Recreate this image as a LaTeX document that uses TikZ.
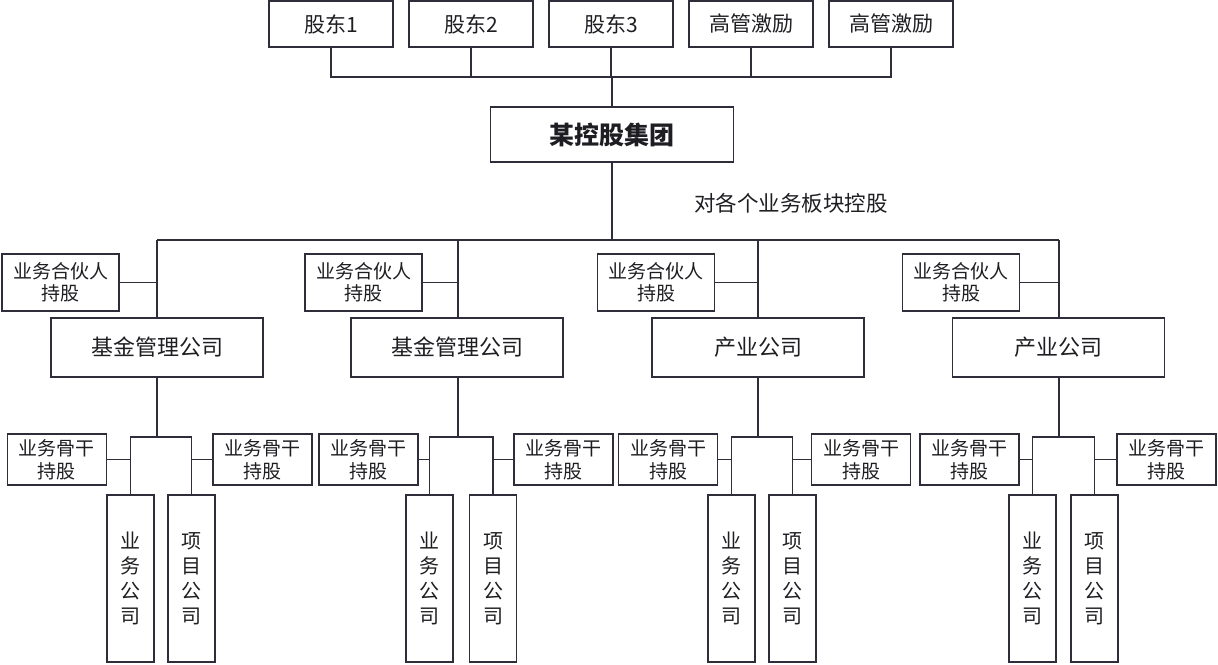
\documentclass[tikz,border=0pt]{standalone}
\usepackage{fontspec}
\newfontfamily\cjk{Noto Sans CJK SC}
\usetikzlibrary{calc}
\definecolor{linec}{RGB}{48,44,58}
\definecolor{textc}{RGB}{30,30,34}
\tikzset {box/.style={draw=linec,line width=1.2pt,inner sep=0pt,align=center,text=textc},
  holder/.style={box,minimum width=124pt,minimum height=46pt,font=\cjk\fontsize{21pt}{23pt}\selectfont},
  group/.style={box,minimum width=243pt,minimum height=55pt,font=\cjk\bfseries\fontsize{25pt}{28pt}\selectfont},
  partner/.style={box,minimum width=117pt,minimum height=57pt,font=\cjk\fontsize{19pt}{22pt}\selectfont},
  firm/.style={box,minimum width=212pt,minimum height=59pt,font=\cjk\fontsize{22pt}{24pt}\selectfont},
  backbone/.style={box,minimum width=99pt,minimum height=51pt,font=\cjk\fontsize{19pt}{23pt}\selectfont},
  unit/.style={box,minimum width=47pt,minimum height=167pt,font=\cjk\fontsize{20pt}{25pt}\selectfont},
  wire/.style={draw=linec,line width=1.2pt}}
\begin{document}
\begin{tikzpicture}[x=1pt,y=-1pt]
\useasboundingbox (0,0) rectangle (1218,664);

% Place shareholders
\node[holder] (sh1) at (331,24) {股东1};
\node[holder] (sh2) at (471,24) {股东2};
\node[holder] (sh3) at (611,24) {股东3};
\node[holder] (sh4) at (751,24) {高管激励};
\node[holder] (sh5) at (891,24) {高管激励};

% Place holding group
\node[group] (grp) at (612,134.5) {某控股集团};
\node[font=\cjk\fontsize{21.5pt}{24pt}\selectfont,text=textc] (note) at (791,203) {对各个业务板块控股};

% Draw shareholder bus
\coordinate (hub) at (612,77);
\draw [wire] (sh1.south) |- (hub) -| (sh5.south);
\draw [wire] (sh2.south) -- (sh2.south |- hub);
\draw [wire] (sh3.south) -- (sh3.south |- hub);
\draw [wire] (sh4.south) -- (sh4.south |- hub);
\draw [wire] (hub) -- (grp.north);

% Place business segments
\node[firm] (co1) at (157,347.5) {基金管理公司};
\node[firm] (co2) at (457,347.5) {基金管理公司};
\node[firm] (co3) at (758,347.5) {产业公司};
\node[firm] (co4) at (1058.5,347.5) {产业公司};

\node[partner] (pt1) at (60.5,282.5) {业务合伙人\\持股};
\node[partner] (pt2) at (363.5,282.5) {业务合伙人\\持股};
\node[partner] (pt3) at (656,282.5) {业务合伙人\\持股};
\node[partner] (pt4) at (961,282.5) {业务合伙人\\持股};

% Draw segment bus
\coordinate (bus1) at (157,240);
\coordinate (bus2) at (458,240);
\coordinate (bus3) at (758,240);
\coordinate (bus4) at (1059,240);
\draw [wire] (grp.south) -- (grp.south |- bus1);
\draw [wire] (bus1) -- (bus4);
\draw [wire] (bus1) -- (bus1 |- co1.north);
\draw [wire] (bus2) -- (bus2 |- co2.north);
\draw [wire] (bus3) -- (bus3 |- co3.north);
\draw [wire] (bus4) -- (bus4 |- co4.north);
\draw [wire] (pt1.east) -- (pt1.east -| bus1);
\draw [wire] (pt2.east) -- (pt2.east -| bus2);
\draw [wire] (pt3.east) -- (pt3.east -| bus3);
\draw [wire] (pt4.east) -- (pt4.east -| bus4);

% Place operating and project companies
\node[unit] (biz1) at (130.5,578.5) {业\\务\\公\\司};
\node[unit] (prj1) at (191.5,578.5) {项\\目\\公\\司};
\node[unit] (biz2) at (429.5,578.5) {业\\务\\公\\司};
\node[unit] (prj2) at (493,578.5) {项\\目\\公\\司};
\node[unit] (biz3) at (731.5,578.5) {业\\务\\公\\司};
\node[unit] (prj3) at (792.5,578.5) {项\\目\\公\\司};
\node[unit] (biz4) at (1032.5,578.5) {业\\务\\公\\司};
\node[unit] (prj4) at (1094.5,578.5) {项\\目\\公\\司};

\node[backbone] (bl1) at (57,459.5) {业务骨干\\持股};
\node[backbone] (br1) at (262.5,459.5) {业务骨干\\持股};
\node[backbone] (bl2) at (368.5,459.5) {业务骨干\\持股};
\node[backbone] (br2) at (563.5,459.5) {业务骨干\\持股};
\node[backbone] (bl3) at (668,459.5) {业务骨干\\持股};
\node[backbone] (br3) at (861,459.5) {业务骨干\\持股};
\node[backbone] (bl4) at (969.5,459.5) {业务骨干\\持股};
\node[backbone] (br4) at (1166.5,459.5) {业务骨干\\持股};

% Draw forks under each segment
\coordinate (fk1) at (157,437);
\coordinate (fk2) at (458,437);
\coordinate (fk3) at (758,437);
\coordinate (fk4) at (1059,437);
\draw [wire] (co1.south) -- (fk1);
\draw [wire] (co2.south -| fk2) -- (fk2);
\draw [wire] (co3.south) -- (fk3);
\draw [wire] (co4.south -| fk4) -- (fk4);
\draw [wire] (biz1.north) |- (fk1) -| (prj1.north);
\draw [wire] (biz2.north) |- (fk2) -| (prj2.north);
\draw [wire] (biz3.north) |- (fk3) -| (prj3.north);
\draw [wire] (biz4.north) |- (fk4) -| (prj4.north);
\draw [wire] (bl1.east) -- (bl1.east -| biz1.north);
\draw [wire] (br1.west) -- (br1.west -| prj1.north);
\draw [wire] (bl2.east) -- (bl2.east -| biz2.north);
\draw [wire] (br2.west) -- (br2.west -| prj2.north);
\draw [wire] (bl3.east) -- (bl3.east -| biz3.north);
\draw [wire] (br3.west) -- (br3.west -| prj3.north);
\draw [wire] (bl4.east) -- (bl4.east -| biz4.north);
\draw [wire] (br4.west) -- (br4.west -| prj4.north);

\end{tikzpicture}
\end{document}
